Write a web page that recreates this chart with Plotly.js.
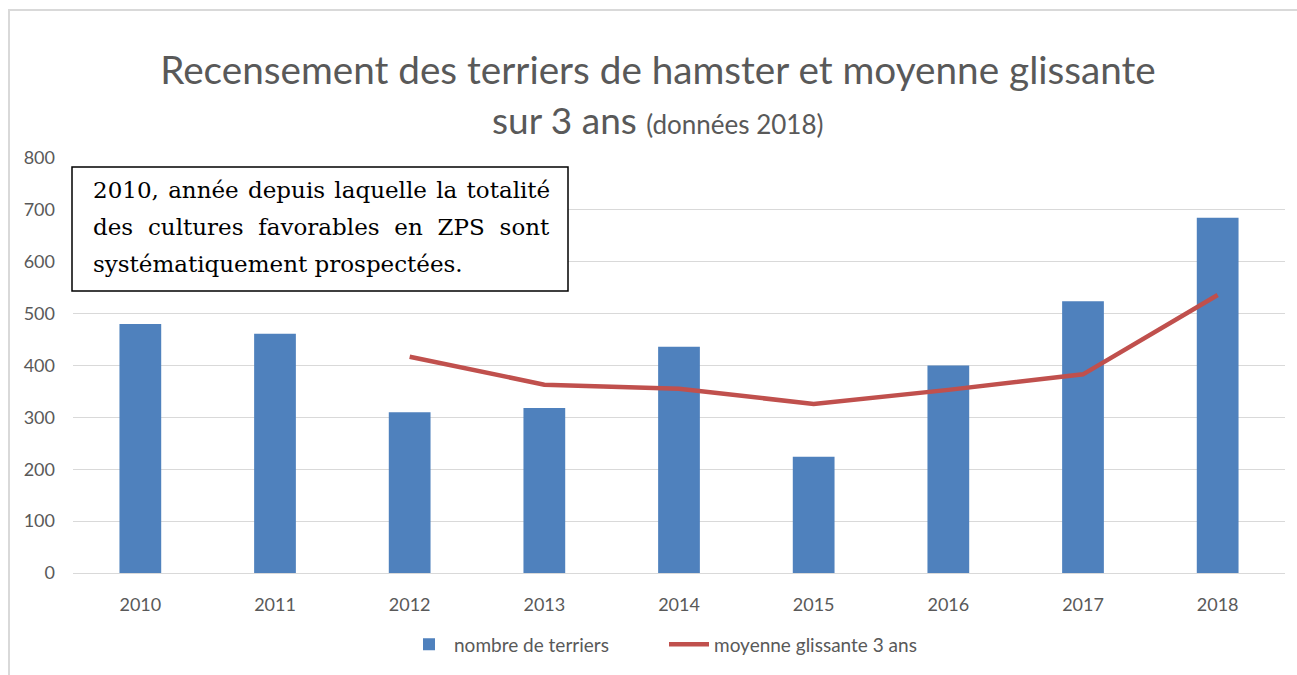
<!DOCTYPE html>
<html>
<head>
<meta charset="utf-8">
<script src="https://cdn.plot.ly/plotly-3.0.1.min.js"></script>
<style>
html,body{margin:0;padding:0;background:#fff;}
#wrap{position:relative;width:1297px;height:675px;overflow:hidden;}
#chart{width:1297px;height:675px;}
#frame{position:absolute;left:8px;top:9px;width:1400px;height:800px;border-left:2px solid #d9d9d9;border-top:2px solid #d9d9d9;pointer-events:none;}
</style>
</head>
<body>
<div id="wrap"><div id="chart"></div><div id="frame"></div></div>
<script>
const years = ['2010','2011','2012','2013','2014','2015','2016','2017','2018'];
const terriers = [480, 461, 310, 318, 436, 224, 400, 524, 685];
const avgYears = ['2012','2013','2014','2015','2016','2017','2018'];
const moyenne = [417, 363, 355, 326, 353, 383, 536];
const yTicks = [0,100,200,300,400,500,600,700,800];
const noteLines = [
  '2010, année depuis laquelle la totalité',
  'des cultures favorables en ZPS sont',
  'systématiquement prospectées.'
];

const sans = 'Lato, "Open Sans", sans-serif';
const serif = '"DejaVu Serif", Georgia, serif';
const grey = '#595959';

// plot area in pixels
const L = 73, R = 12, T = 158, B = 99, W = 1297, H = 675;
const PW = W - L - R, PH = H - T - B;
const px = v => (v - L) / PW;
const py = v => (H - B - v) / PH;

const traces = [
  {type:'bar', x:years, y:terriers, name:'nombre de terriers',
   marker:{color:'#4F81BD'}},
  {type:'scatter', mode:'lines', x:avgYears, y:moyenne, name:'moyenne glissante 3 ans',
   line:{color:'#C0504D', width:4.5}}
];

const noteSpacing = ['2px', '7.5px', '0px'];
const noteAnns = noteLines.map((t, i) => ({
  xref:'paper', yref:'paper', x:px(91), y:py(190 + i*37.5), xanchor:'left', yanchor:'middle',
  showarrow:false, align:'left',
  text:'<span style="word-spacing:' + noteSpacing[i] + '">' + t + '</span>',
  font:{family:serif, size:23, color:'#000'}
}));

const layout = {
  width:W, height:H,
  margin:{l:L, r:R, t:T, b:B},
  paper_bgcolor:'#fff', plot_bgcolor:'#fff',
  bargap:0.69,
  showlegend:true,
  title:{text:'Recensement des terriers de hamster et moyenne glissante',
    font:{family:sans, size:38.7, color:grey}, x:658/1297, xanchor:'center', y:1-70/675, yanchor:'middle'},
  xaxis:{type:'category', tickfont:{family:sans, size:18, color:grey}, ticklabelstandoff:15,
    showline:true, linecolor:'#d9d9d9', linewidth:1, ticks:'', showgrid:false, zeroline:false},
  yaxis:{range:[0,800], tickvals:yTicks, tickfont:{family:sans, size:18, color:grey}, ticklabelstandoff:17,
    showgrid:true, gridcolor:'#d9d9d9', gridwidth:1, zeroline:false, showline:false, ticks:''},
  legend:{orientation:'h', x:px(664), xanchor:'center', y:py(648), yanchor:'middle',
    font:{family:sans, size:19, color:grey}, traceorder:'normal', itemwidth:40, entrywidth:205},
  shapes:[
    {type:'rect', xref:'paper', yref:'paper', x0:px(72), x1:px(568), y0:py(167), y1:py(292),
     line:{color:'#000', width:1.5}, fillcolor:'#fff', layer:'above'}
  ],
  annotations:[
    {xref:'paper', yref:'paper', x:px(657), y:py(119), xanchor:'center', yanchor:'middle',
     showarrow:false, text:'sur 3 ans <span style="font-size:26px">(données 2018)</span>',
     font:{family:sans, size:37, color:grey}}
  ].concat(noteAnns)
};

Plotly.newPlot('chart', traces, layout, {displayModeBar:false, staticPlot:true});
</script>
</body>
</html>
